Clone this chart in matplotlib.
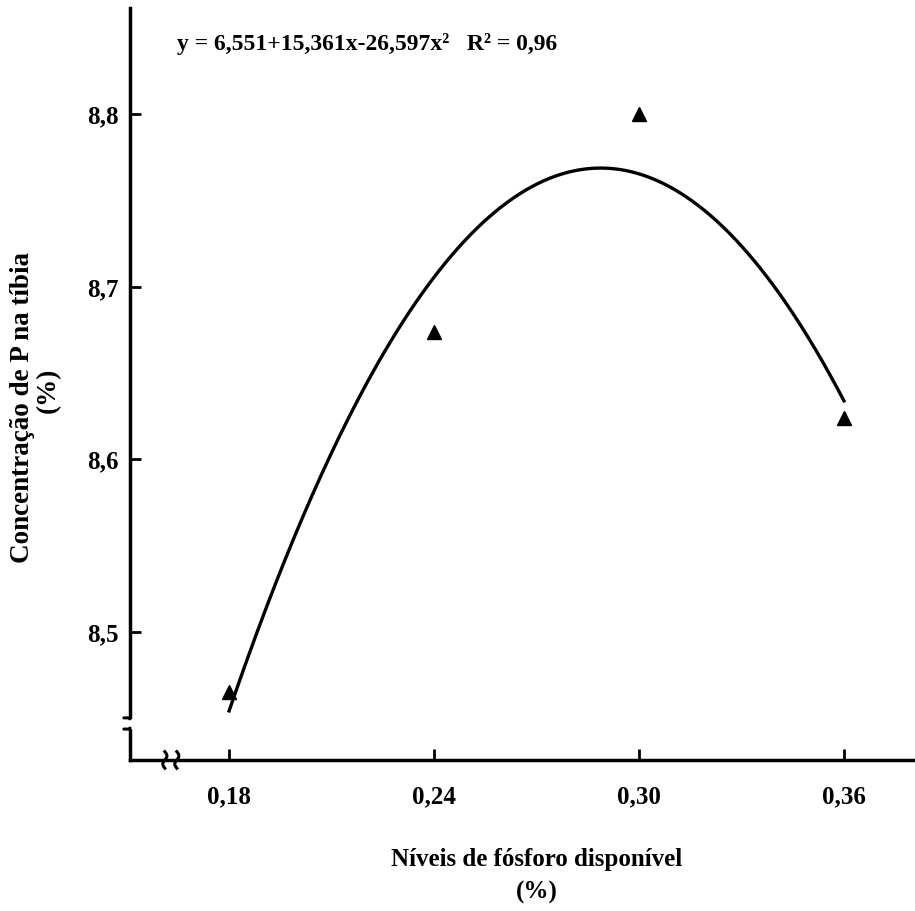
import numpy as np
import matplotlib
matplotlib.use("Agg")
import matplotlib.pyplot as plt

# data
niveis = [0.18, 0.24, 0.30, 0.36]
conc_p = [8.465, 8.674, 8.800, 8.624]
# regression reported on the chart: y = b0 + b1*x + b2*x^2
coef = [6.551, 15.361, -26.597]
r2 = 0.96
x_ticks = [0.18, 0.24, 0.30, 0.36]
x_labels = ["0,18", "0,24", "0,30", "0,36"]
y_ticks = [8.5, 8.6, 8.7, 8.8]
y_labels = ["8,5", "8,6", "8,7", "8,8"]

plt.rcParams["font.family"] = ["Liberation Serif", "DejaVu Serif"]
plt.rcParams["font.weight"] = "bold"

fig = plt.figure(figsize=(9.15, 9.11), dpi=100)
ax = fig.add_axes([0.1421, 0.1658, 0.8579, 0.8254])

xs = np.linspace(min(niveis), max(niveis), 200)
ys = coef[0] + coef[1] * xs + coef[2] * xs ** 2
ax.plot(xs, ys, color="black", lw=2.4)
ax.plot(niveis, conc_p, "^", color="black", ms=10.5)

ax.set_xlim(0.1510, 0.3808)
ax.set_ylim(8.4258, 8.8617)
ax.set_xticks(x_ticks)
ax.set_xticklabels(x_labels)
ax.set_yticks(y_ticks)
ax.set_yticklabels(y_labels)
ax.tick_params(direction="in", length=8, width=2, labelsize=18, pad=8)
ax.tick_params(axis="x", pad=18)
for lab in ax.get_xticklabels() + ax.get_yticklabels():
    lab.set_fontweight("bold")

ax.spines[["top", "right"]].set_visible(False)
ax.spines[["left", "bottom"]].set_linewidth(2.5)

# axis break marks
tr = ax.transData
# y-axis: gap with hooks
ax.add_patch(plt.Rectangle((0.14, 8.4443), 0.02, 0.0053, transform=tr,
                           color="white", clip_on=False, zorder=5))
ax.plot([0.1510, 0.1505, 0.1492], [8.4443, 8.4437, 8.4437], color="black",
        lw=2.2, clip_on=False, zorder=6, solid_capstyle="round")
ax.plot([0.1510, 0.1505, 0.1492], [8.4496, 8.4502, 8.4502], color="black",
        lw=2.2, clip_on=False, zorder=6, solid_capstyle="round")
# x-axis: two squiggles
t = np.linspace(-1, 1, 30)
for x0 in [0.1612, 0.1647]:
    sx = x0 + 0.0006 * np.sin(t * np.pi)
    sy = 8.4258 + 0.0048 * t
    ax.plot(sx, sy, color="black", lw=2.2, clip_on=False, zorder=6)

ax.text(0.1648, 8.8410,
        "y = 6,551+15,361x-26,597x²   R² = 0,96",
        fontsize=17, fontweight="bold", ha="left", va="center")

fig.text(0.587, 0.056, "Níveis de fósforo disponível", fontsize=18,
         fontweight="bold", ha="center", va="center")
fig.text(0.587, 0.020, "(%)", fontsize=18, fontweight="bold",
         ha="center", va="center")
fig.text(0.025, 0.553, "Concentração de P na tíbia", fontsize=19.5,
         fontweight="bold", ha="center", va="center", rotation=90)
fig.text(0.053, 0.572, "(%)", fontsize=19.5, fontweight="bold",
         ha="center", va="center", rotation=90)

fig.savefig("out.png", dpi=100)
